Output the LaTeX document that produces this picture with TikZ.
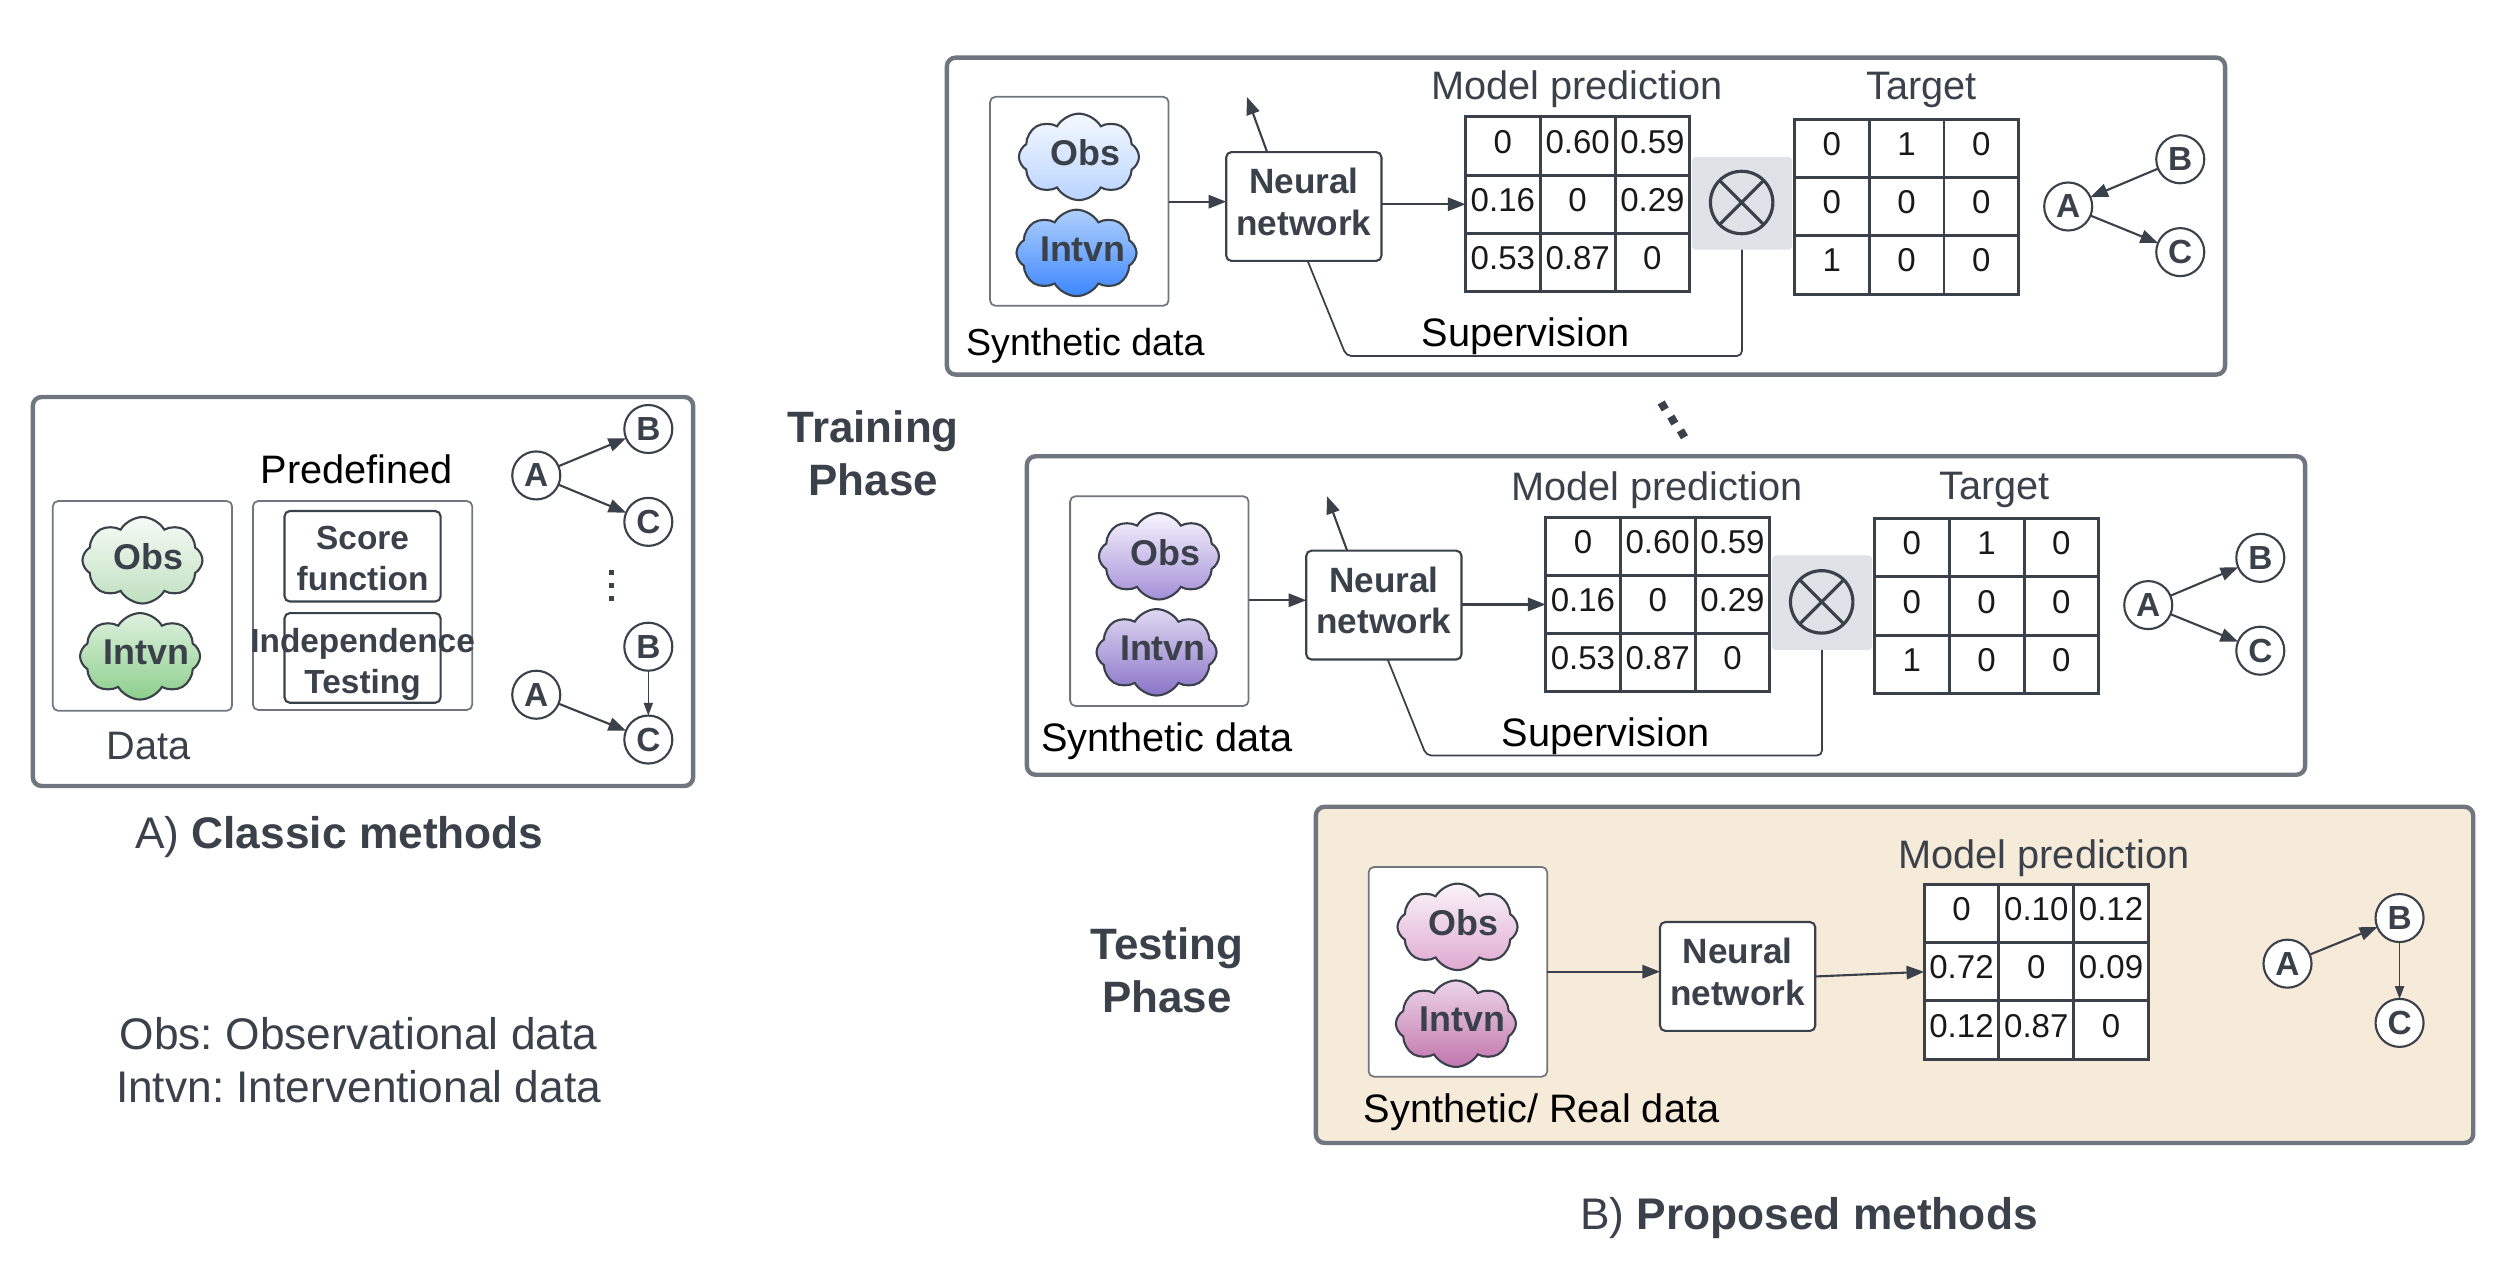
\documentclass[tikz,border=0pt]{standalone}
\usepackage{fontspec}
\setmainfont{Liberation Sans}
\usetikzlibrary{positioning, arrows.meta, fit, shapes.symbols}
\definecolor{methDark}{HTML}{3A414A}
\definecolor{methEdge}{HTML}{6F7680}
\definecolor{methBeige}{HTML}{F6EAD8}
\definecolor{methMark}{HTML}{DFE2E6}
\definecolor{greenTop}{HTML}{F7FBF7}
\definecolor{greenMid}{HTML}{BFE0BF}
\definecolor{greenLow}{HTML}{DFF1DF}
\definecolor{greenEnd}{HTML}{8CCF8C}
\definecolor{blueTop}{HTML}{F5F9FF}
\definecolor{blueMid}{HTML}{B9D4FF}
\definecolor{blueLow}{HTML}{AFD0FB}
\definecolor{blueEnd}{HTML}{3D87FF}
\definecolor{violetTop}{HTML}{F7F4FD}
\definecolor{violetMid}{HTML}{A48FD8}
\definecolor{violetLow}{HTML}{E0D8F2}
\definecolor{violetEnd}{HTML}{8A74C8}
\definecolor{pinkTop}{HTML}{FAF4F9}
\definecolor{pinkMid}{HTML}{DFA9D1}
\definecolor{pinkLow}{HTML}{ECD4E8}
\definecolor{pinkEnd}{HTML}{C276AD}
\newcommand{\blobtext}[1]{\raisebox{2.3pt}{\makebox[0pt]{\hspace*{3.6pt}#1}}}
\newcommand{\cellgrid}[4]{%
    \foreach \val [count=\i from 0] in {#4} {
        \pgfmathtruncatemacro{\col}{mod(\i,3)}
        \pgfmathtruncatemacro{\row}{int(\i/3)}
        \node[gridcell] (#1-\row-\col) at ({#2+(\col+0.5)*46.7},{#3+(\row+0.5)*36.4}) {\val};
    }%
}
\frenchspacing

\begin{document}
\begin{tikzpicture}[
    x=0.016cm, y=-0.016cm,
    panel/.style={
        draw=methEdge, rounded corners=2.5pt, line width=1.25pt,
        inner sep=0pt, outer sep=0pt
    },
    databox/.style={
        draw=methEdge, rounded corners=1.5pt, line width=0.5pt,
        fill=white, inner sep=0pt, outer sep=0pt
    },
    procbox/.style={
        draw=methDark, rounded corners=1.5pt, line width=0.6pt, fill=white,
        text=methDark, align=center, inner sep=0pt, outer sep=0pt,
        font=\fontsize{9.5}{11.6}\selectfont\bfseries
    },
    netbox/.style={
        procbox, minimum width=97*0.016cm, minimum height=68*0.016cm,
        text depth=2.7pt, font=\fontsize{10}{11.8}\selectfont\bfseries
    },
    blob/.style={
        cloud, cloud puffs=8, cloud puff arc=120, aspect=1.35,
        draw=methDark, line width=0.6pt, inner sep=0pt,
        minimum width=75*0.016cm, minimum height=54*0.016cm,
        text=methDark, font=\fontsize{10.2}{12}\selectfont\bfseries
    },
    vertex/.style={
        circle, draw=methDark, line width=0.6pt, fill=white,
        minimum size=30*0.016cm, inner sep=0pt, outer sep=0pt,
        text=methDark, font=\fontsize{9.5}{11}\selectfont\bfseries
    },
    gridcell/.style={
        draw=methDark, line width=0.85pt,
        minimum width=46.7*0.016cm, minimum height=36.4*0.016cm,
        inner sep=0pt, outer sep=0pt, text=black!90,
        text height=6.5pt, text depth=2.5pt,
        font=\fontsize{9.4}{11}\selectfont
    },
    gridback/.style={fill=white, inner sep=0pt, outer sep=0pt},
    markbox/.style={
        fill=methMark, rounded corners=1pt, inner sep=0pt, outer sep=0pt
    },
    timesmark/.style={
        circle, draw=methDark, line width=0.9pt, fill=none,
        minimum size=39*0.016cm, inner sep=0pt, outer sep=0pt
    },
    dotmark/.style={
        rectangle, fill=methDark, minimum size=3.4*0.016cm,
        inner sep=0pt, outer sep=0pt
    },
    lbl/.style={font=\fontsize{11.3}{13}\selectfont, text=methDark},
    lblblack/.style={font=\fontsize{11.3}{13}\selectfont, text=black},
    phase/.style={
        font=\fontsize{12.5}{15}\selectfont\bfseries, text=methDark, align=center
    },
    caption/.style={font=\fontsize{12.6}{15}\selectfont, text=methDark, align=center},
    arr/.style={-{Triangle[length=5pt,width=3.8pt]}, draw=methDark, fill=methDark, line width=0.6pt},
    arrsmall/.style={-{Triangle[length=3.6pt,width=2.6pt]}, draw=methDark, fill=methDark, line width=0.4pt},
    supline/.style={draw=methDark, line width=0.5pt, rounded corners=1.5pt},
]
\useasboundingbox (0,0) rectangle (1568,789.6);

%% =================================================================
%% A) Classic methods
%% =================================================================
\node[panel, fit={(20.5,248) (433,491)}] (classic) {};
\node[databox, fit={(33,313) (145,444)}] (dataA) {};
\node[blob, top color=greenTop, bottom color=greenMid] (obsA) at (89,350) {\blobtext{Obs}};
\node[blob, top color=greenLow, bottom color=greenEnd] (intA) at (87.5,410) {\blobtext{Intvn}};
\node[lbl] (dataLbl) at (93,466) {Data};

\node[databox, fit={(158,313) (295,443.5)}] (predef) {};
\node[lblblack] (predefLbl) at (223,293) {Predefined};
\node[procbox, minimum width=97.5*0.016cm, minimum height=56.5*0.016cm] (score)
    at (226.5,347.5) {\rule{0pt}{8pt}Score\\function};
\node[procbox, fill=none, minimum width=97.5*0.016cm, minimum height=56*0.016cm] (indep)
    at (226.5,411) {\rule{0pt}{10.6pt}\makebox[0pt]{Independence}\\Testing};

\node[vertex] (a1) at (335,297) {A};
\node[vertex] (b1) at (405,268) {B};
\node[vertex] (c1) at (405,326) {C};
\draw[arr] (a1) -- (b1);
\draw[arr] (a1) -- (c1);

\foreach \ypos [count=\k] in {357.5,365.7,373.8}
    \node[dotmark] (vdot\k) at (382,\ypos) {};

\node[vertex] (a2) at (335,434) {A};
\node[vertex] (b2) at (405,404) {B};
\node[vertex] (c2) at (405,462) {C};
\draw[arr] (a2) -- (c2);
\draw[arrsmall] (b2) -- (c2);

\node[caption] (classicLbl) at (212,523) {A) \textbf{Classic methods}};
\node[caption] (legend) at (224,662.5) {Obs: Observational data\\Intvn: Interventional data};

%% =================================================================
%% Training phase, first panel
%% =================================================================
\node[panel, fit={(591.5,36) (1390,234)}] (trainA) {};
\node[databox, fit={(618.5,60.5) (730,191)}] (synA) {};
\node[blob, top color=blueTop, bottom color=blueMid] (obsB) at (674,98) {\blobtext{Obs}};
\node[blob, top color=blueLow, bottom color=blueEnd] (intB) at (672.5,158) {\blobtext{Intvn}};
\node[lblblack, font=\fontsize{10.7}{13}\selectfont] (synAlbl) at (678,216) {Synthetic data};

\node[netbox] (nnA) at (814.5,129) {Neural\\network};
\coordinate (upA) at (779,60.6);
\draw[arr] (synA.east |- 0,126) -- (nnA.west |- 0,126);
\draw[arr] (nnA.124) -- (upA);

\cellgrid{predA}{915.5}{73}{0,0.60,0.59,0.16,0,0.29,0.53,0.87,0}
\node[lbl] (predAlbl) at (985,56) {Model prediction};
\draw[arr] (nnA.east |- predA-1-0.west) -- (predA-1-0.west);

\node[markbox, fit={(1057,98) (1119.5,156)}] (markA) {};
\node[timesmark] (timesA) at (1088,126.5) {};
\draw[draw=methDark, line width=0.9pt] (timesA.north west) -- (timesA.south east)
    (timesA.north east) -- (timesA.south west);

\cellgrid{targA}{1121}{74.5}{0,1,0,0,0,0,1,0,0}
\node[lbl] (targAlbl) at (1200.5,56) {Target};

\coordinate (supA) at (841,222.4);
\draw[supline] (nnA.274) -- (supA) -- (markA.south |- supA) -- (markA.south);
\node[lblblack] (supAlbl) at (953,210) {Supervision};

\node[vertex] (a3) at (1292,129) {A};
\node[vertex] (b3) at (1362,99.5) {B};
\node[vertex] (c3) at (1362,157.5) {C};
\draw[arr] (b3) -- (a3);
\draw[arr] (a3) -- (c3);

%% slanted dots between the panels
\foreach \xpos/\ypos [count=\k] in {1039/253.6,1045/262.4,1051/271}
    \node[dotmark, rotate=30, minimum size=5*0.016cm] (sdot\k) at (\xpos,\ypos) {};

\node[phase] (trainLbl) at (545.5,283) {Training\\Phase};

%% =================================================================
%% Training phase, second panel
%% =================================================================
\node[panel, fit={(641.5,285) (1440,484)}] (trainB) {};
\node[databox, fit={(668.5,310) (780,441)}] (synB) {};
\node[blob, top color=violetTop, bottom color=violetMid] (obsC) at (724,347.5) {\blobtext{Obs}};
\node[blob, top color=violetLow, bottom color=violetEnd] (intC) at (722.5,407.5) {\blobtext{Intvn}};
\node[lblblack] (synBlbl) at (729,463) {Synthetic data};

\node[netbox] (nnB) at (864.5,378) {Neural\\network};
\coordinate (upB) at (829,310);
\draw[arr] (synB.east |- 0,375) -- (nnB.west |- 0,375);
\draw[arr] (nnB.124) -- (upB);

\cellgrid{predB}{965.5}{323}{0,0.60,0.59,0.16,0,0.29,0.53,0.87,0}
\node[lbl] (predBlbl) at (1035,306) {Model prediction};
\draw[arr] (nnB.east |- predB-1-0.west) -- (predB-1-0.west);

\node[markbox, fit={(1107,347) (1169.5,406)}] (markB) {};
\node[timesmark] (timesB) at (1138,376) {};
\draw[draw=methDark, line width=0.9pt] (timesB.north west) -- (timesB.south east)
    (timesB.north east) -- (timesB.south west);

\cellgrid{targB}{1171}{324}{0,1,0,0,0,0,1,0,0}
\node[lbl] (targBlbl) at (1246,306) {Target};

\coordinate (supB) at (891,472);
\draw[supline] (nnB.274) -- (supB) -- (markB.south |- supB) -- (markB.south);
\node[lblblack] (supBlbl) at (1003,460) {Supervision};

\node[vertex] (a4) at (1342,378) {A};
\node[vertex] (b4) at (1412,348.5) {B};
\node[vertex] (c4) at (1412,406.5) {C};
\draw[arr] (a4) -- (b4);
\draw[arr] (a4) -- (c4);

%% =================================================================
%% Testing phase
%% =================================================================
\node[panel, fill=methBeige, fit={(822,504) (1545,714)}] (testing) {};
\node[databox, fit={(855,541.6) (966.5,672.6)}] (synC) {};
\node[blob, top color=pinkTop, bottom color=pinkMid] (obsD) at (910.5,579) {\blobtext{Obs}};
\node[blob, top color=pinkLow, bottom color=pinkEnd] (intD) at (909.5,639.5) {\blobtext{Intvn}};
\node[lblblack] (synClbl) at (963,695) {Synthetic/ Real data};

\node[netbox] (nnC) at (1085.5,610) {Neural\\network};
\draw[arr] (synC.east |- 0,607) -- (nnC.west |- 0,607);

\node[gridback, fit={(1202,552.5) (1342,661.7)}] (predCback) {};
\cellgrid{predC}{1202}{552.5}{0,0.10,0.12,0.72,0,0.09,0.12,0.87,0}
\node[lbl] (predClbl) at (1277,536) {Model prediction};
\draw[arr] (nnC.east |- 0,610) -- (predC-1-0.west);

\node[vertex] (a5) at (1429,602) {A};
\node[vertex] (b5) at (1499,573.5) {B};
\node[vertex] (c5) at (1499,639) {C};
\draw[arr] (a5) -- (b5);
\draw[arrsmall] (b5) -- (c5);

\node[phase] (testLbl) at (729,606) {Testing\\Phase};
\node[caption] (proposedLbl) at (1130,761) {B) \textbf{Proposed methods}};

\end{tikzpicture}
\end{document}
